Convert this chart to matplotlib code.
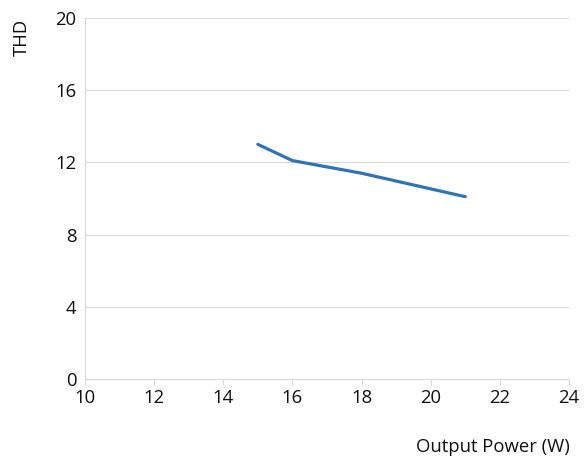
import matplotlib
matplotlib.use("Agg")
import matplotlib.pyplot as plt

plt.rcParams['font.family'] = ['Open Sans', 'DejaVu Sans']
plt.rcParams['text.color'] = '#111111'
plt.rcParams['xtick.labelcolor'] = '#111111'
plt.rcParams['ytick.labelcolor'] = '#111111'

power = [15, 16, 18, 21]
thd = [13.0, 12.1, 11.4, 10.1]
xticks = [10, 12, 14, 16, 18, 20, 22, 24]
yticks = [0, 4, 8, 12, 16, 20]

fig = plt.figure(figsize=(5.84, 4.59), dpi=100)
ax = fig.add_axes([85/584, 80/459, 484/584, 361/459])

ax.plot(power, thd, color='#2e75b6', lw=2.3, solid_capstyle='round')

ax.set_xlim(10, 24)
ax.set_ylim(0, 20)
ax.set_xticks(xticks)
ax.set_yticks(yticks)
ax.yaxis.grid(True, color='#d9d9d9', lw=0.8)
ax.set_axisbelow(True)
for s in ['top', 'right']:
    ax.spines[s].set_visible(False)
ax.spines['left'].set_color('#d9d9d9')
ax.spines['bottom'].set_color('#d9d9d9')
ax.tick_params(axis='x', length=4, color='#d9d9d9', labelsize=13.3, pad=3)
ax.tick_params(axis='y', length=0, labelsize=13.3, pad=6)

fig.text(22/584, 1 - 37/459, 'THD', rotation=90, ha='center', va='center', fontsize=13.3)
fig.text(570/584, 1 - 447/459, 'Output Power (W)', ha='right', va='center', fontsize=13.3)

fig.savefig('out.png', dpi=100)
